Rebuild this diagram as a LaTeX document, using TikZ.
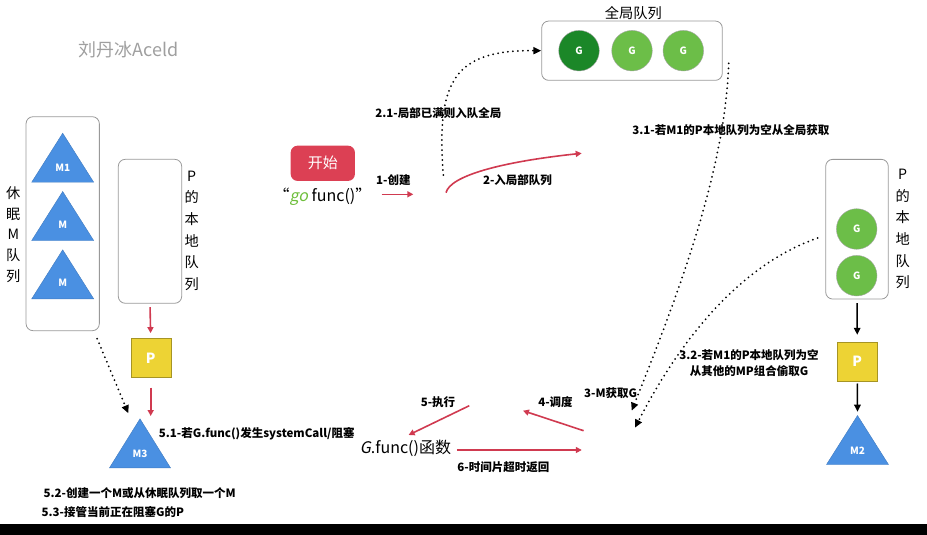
\documentclass[tikz,border=0pt]{standalone}
\usepackage{fontspec}
\setmainfont{Noto Sans CJK SC}
\newfontfamily\slfont{Noto Sans CJK SC}[FakeSlant=0.2]
\usetikzlibrary{shapes.geometric,arrows.meta}
\definecolor{mblue}{RGB}{74,144,226}
\definecolor{pyellow}{RGB}{237,211,52}
\definecolor{gdark}{RGB}{27,135,40}
\definecolor{glight}{RGB}{108,190,72}
\definecolor{ared}{RGB}{208,58,80}
\definecolor{startred}{RGB}{220,64,84}
\definecolor{gogreen}{RGB}{110,190,60}

\begin{document}
\begin{tikzpicture}[x=1pt,y=-1pt,
	box/.style={draw=gray!80, rounded corners=7pt, line width=0.8pt, inner sep=0},
	mtri/.style={isosceles triangle, isosceles triangle stretches, shape border rotate=90, anchor=apex,
		fill=mblue, draw=mblue!85!black, inner sep=0, minimum width=62pt, minimum height=49pt,
		text=white, font=\fontsize{10}{10}\selectfont\bfseries},
	gcirc/.style={circle, fill=glight, draw=gray!70, minimum size=40.6pt, inner sep=0,
		text=white, font=\fontsize{10}{10}\selectfont\bfseries},
	psq/.style={rectangle, fill=pyellow, draw=pyellow!70!black, minimum width=40pt, minimum height=39pt,
		text=white, font=\fontsize{14}{14}\selectfont\bfseries},
	lbl/.style={inner sep=0, font=\fontsize{11.5}{15.7}\selectfont\bfseries},
	vlbl/.style={inner sep=0, align=center, font=\fontsize{14.2}{21.7}\selectfont},
	redarr/.style={draw=ared, line width=1.6pt, -{Triangle[length=6pt,width=6pt]}},
	blkarr/.style={line width=1.5pt, -{Triangle[length=7pt,width=6.5pt]}},
	dotarr/.style={line width=2pt, line cap=round, dash pattern=on 0pt off 5pt, -{Triangle[length=8pt,width=7pt]}}]

	\useasboundingbox (0,0) rectangle (927,535);
	\fill[black] (0,524) rectangle (927,535);

	\node[text=gray!75, font=\fontsize{18}{18}\selectfont] (mark) at (128.5,50) {刘丹冰Aceld};

	% left side
	\node[box, minimum width=73.3pt, minimum height=214pt] (sleep) at (62.7,223.7) {};
	\node[mtri] (m1) at (62.7,132.7) {M1};
	\node[mtri] (m) at (62.7,191) {M};
	\node[mtri] (mm) at (62.7,249.3) {M};
	\node[vlbl, font=\fontsize{14.2}{20.8}\selectfont] (sleeplbl) at (13.3,234.5) {休\\眠\\M\\队\\列};

	\node[box, minimum width=63.4pt, minimum height=144pt] (lq) at (150,231.3) {};
	\node[vlbl] (lqlbl) at (191.7,230.8) {P\\的\\本\\地\\队\\列};
	\node[psq] (p1) at (150.7,357.8) {P};
	\node[mtri, minimum width=61pt] (m3) at (140,418.3) {M3};

	\node[lbl] (t51) at (256.7,433.3) {5.1-若G.func()发生systemCall/阻塞};
	\node[lbl] (t52) at (139.7,492.7) {5.2-创建一个M或从休眠队列取一个M};
	\node[lbl] (t53) at (112.8,512.3) {5.3-接管当前正在阻塞G的P};

	\draw[redarr, shorten <=3.4pt, shorten >=5pt] (lq.south) -- (p1.north);
	\draw[redarr, shorten <=10pt, shorten >=2.3pt] (p1.south) -- (p1.south |- m3.apex);
	\draw[dotarr] ([xshift=-2.6pt,yshift=-7.6pt]sleep.south east) -- ([xshift=-11.7pt,yshift=5pt]m3.apex);

	% start
	\node[fill=startred, rounded corners=7pt, minimum width=64.3pt, minimum height=35.3pt, text=white,
		font=\fontsize{15}{15}\selectfont] (start) at (322.8,163.3) {开始};
	\node[inner sep=0, font=\fontsize{16}{16}\selectfont] (gofunc) at (322.5,196.7)
		{“{\slfont\color{gogreen}go} func()”};
	\coordinate (c1) at (413.3,194.3);
	\draw[redarr, shorten <=10pt] (gofunc.east |- c1) -- (c1);
	\node[lbl] (t1) at (393.3,180) {1-创建};

	\coordinate (q0) at (446,192.7);
	\coordinate (q1) at (581.7,153.3);
	\draw[redarr] (q0) .. controls (450,176) and (500,162) .. (q1);
	\node[lbl] (t2) at (517.5,180) {2-入局部队列};

	% global queue
	\node[box, minimum width=180.6pt, minimum height=59.3pt] (gbox) at (632,50.7) {};
	\node[vlbl] (gboxlbl) at (633.3,13.3) {全局队列};
	\node[gcirc, fill=gdark] (g1) at (579,50.7) {G};
	\node[gcirc] (g2) at (632,50.7) {G};
	\node[gcirc] (g3) at (683.3,50.7) {G};

	\coordinate (g0) at (443.3,175);
	\draw[dotarr] (g0) .. controls (436,80) and (455,50) .. (gbox.west);
	\node[lbl] (t21) at (438.3,113.3) {2.1-局部已满则入队全局};
	\node[lbl] (t31) at (730.8,130) {3.1-若M1的P本地队列为空从全局获取};

	% right side
	\node[box, minimum width=62.6pt, minimum height=139.7pt] (rq) at (857,229.2) {};
	\node[vlbl] (rqlbl) at (902.7,229) {P\\的\\本\\地\\队\\列};
	\node[gcirc] (g4) at (856.7,229) {G};
	\node[gcirc] (g5) at (856.7,275.7) {G};
	\node[psq, minimum height=38.4pt] (p2) at (857.3,361.5) {P};
	\node[mtri] (m2) at (857.5,415) {M2};
	\draw[blkarr, shorten <=3.7pt, shorten >=7.3pt] (rq.south) -- (p2.north);
	\draw[blkarr, shorten <=2.6pt, shorten >=3.3pt] (p2.south) -- (m2.apex);

	\coordinate (getg) at (631.7,410.7);
	\coordinate (stealg) at (635,427.7);
	\draw[dotarr] ([xshift=6pt,yshift=-12.6pt]gbox.east) .. controls (725,170) and (680,290) .. (getg);
	\draw[dotarr] ([xshift=-7.7pt,yshift=-8.8pt]rq.west) .. controls (740,265) and (680,340) .. (stealg);
	\node[lbl] (t3) at (610.7,392.7) {3-M获取G};
	\node[lbl, align=center] (t32) at (749,362.8) {3.2-若M1的P本地队列为空\\从其他的MP组合偷取G};

	% run
	\node[inner sep=0, font=\fontsize{16}{16}\selectfont] (gfn) at (405.5,448) {{\slfont G}.func()函数};
	\coordinate (a5s) at (469.3,405.7);
	\coordinate (a5e) at (408.6,435);
	\coordinate (a4s) at (583.6,430.7);
	\coordinate (a4e) at (523,410.7);
	\coordinate (a6e) at (581.8,450);
	\draw[redarr] (a5s) -- (a5e);
	\draw[redarr] (a4s) -- (a4e);
	\draw[redarr, shorten <=5.6pt] (gfn.east |- a6e) -- (a6e);
	\node[lbl] (t5) at (438,402) {5-执行};
	\node[lbl] (t4) at (555.5,402) {4-调度};
	\node[lbl] (t6) at (503.4,467) {6-时间片超时返回};

\end{tikzpicture}
\end{document}
